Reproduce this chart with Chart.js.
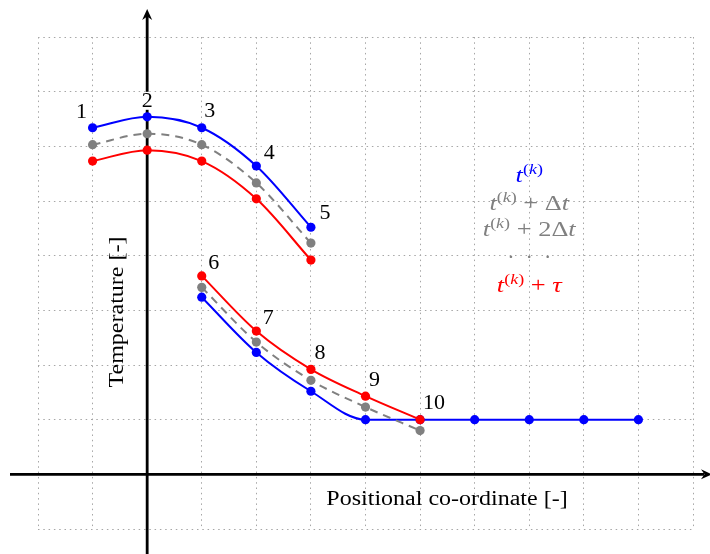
<!DOCTYPE html>
<html lang="en">
  <head>
    <meta charset="UTF-8" />
    <title>Temperature profile</title>
    <script src="https://cdn.jsdelivr.net/npm/chart.js@4.4.0/dist/chart.umd.min.js"></script>
    <style>
      body {
        margin: 0;
        background: #ffffff;
      }
      #wrap {
        width: 710px;
        height: 554px;
      }
    </style>
  </head>
  <body>
    <div id="wrap"><canvas id="profile" width="710" height="554"></canvas></div>

    <script>
      // node positions along the rod (upper and lower segments)
      const upperX = [-1, 0, 1, 2, 3];
      const lowerX = [1, 2, 3, 4, 5];
      const tailX = [6, 7, 8, 9];

      // temperatures at t(k)
      const blueUpper = [6.34, 6.54, 6.34, 5.64, 4.52];
      const blueLower = [3.24, 2.23, 1.52, 1.0, 1.0];
      const blueTail = [1.0, 1.0, 1.0, 1.0];
      // t(k) + dt
      const grayUpper = [6.03, 6.23, 6.03, 5.33, 4.23];
      const grayLower = [3.42, 2.42, 1.72, 1.23, 0.8];
      // t(k) + tau
      const redUpper = [5.73, 5.93, 5.73, 5.04, 3.92];
      const redLower = [3.63, 2.62, 1.92, 1.43, 1.0];

      // node numbers: 1-5 sit on the upper blue curve, 6-10 on the lower red one
      const nodeNames = ["1", "2", "3", "4", "5", "6", "7", "8", "9", "10"];
      const nodeOffsets = [
        [-11, -16], [0, -16], [8, -17], [13, -13], [14, -14],
        [12, -13], [12, -13], [9, -16], [9, -16], [14, -16]
      ];

      const BLUE = "#0000ff";
      const GRAY = "#808080";
      const RED = "#ff0000";
      const SERIF = '"Liberation Serif", "DejaVu Serif", serif';
      const WIDE = 1.2; // serif text is drawn a little wider than Times

      function pts(xs, ys) {
        return xs.map((x, i) => ({ x: x, y: ys[i] }));
      }

      function series(data, color, dashed) {
        return {
          data: data,
          showLine: true,
          borderColor: color,
          backgroundColor: color,
          borderWidth: 2,
          borderDash: dashed ? [8, 6] : [],
          pointRadius: 4.6,
          pointHoverRadius: 4.6,
          pointBorderWidth: 0,
          cubicInterpolationMode: "monotone",
        };
      }

      // thick arrowed axes through the origin
      const axesPlugin = {
        id: "axes",
        beforeDatasetsDraw(chart) {
          const ctx = chart.ctx;
          const x0 = chart.scales.x.getPixelForValue(0);
          const y0 = chart.scales.y.getPixelForValue(0);
          const W = chart.width;
          const H = chart.height;
          ctx.save();
          ctx.strokeStyle = "#000";
          ctx.fillStyle = "#000";
          ctx.lineWidth = 2.8;
          ctx.beginPath();
          ctx.moveTo(10, y0);
          ctx.lineTo(W - 6, y0);
          ctx.moveTo(x0, H);
          ctx.lineTo(x0, 16);
          ctx.stroke();
          arrow(ctx, x0, 9, 0, -1);
          arrow(ctx, W + 2, y0, 1, 0);
          ctx.restore();
        },
      };

      function arrow(ctx, tx, ty, dx, dy) {
        const len = 11, half = 5, back = 3.5;
        const px = -dy, py = dx;
        ctx.beginPath();
        ctx.moveTo(tx, ty);
        ctx.lineTo(tx - dx * len + px * half, ty - dy * len + py * half);
        ctx.lineTo(tx - dx * (len - back), ty - dy * (len - back));
        ctx.lineTo(tx - dx * len - px * half, ty - dy * len - py * half);
        ctx.closePath();
        ctx.fill();
      }

      // centred text, stretched horizontally
      function wideText(ctx, text, cx, cy) {
        ctx.save();
        ctx.translate(cx, cy);
        ctx.scale(WIDE, 1);
        ctx.textAlign = "center";
        ctx.textBaseline = "middle";
        ctx.fillText(text, 0, 0);
        ctx.restore();
      }

      // draws a run of text pieces; each piece may be italic or raised
      function drawRich(ctx, pieces, cx, cy, color) {
        const size = 22, supSize = 15;
        const fontOf = (p) => (p.it ? "italic " : "") + (p.sup ? supSize : size) + "px " + SERIF;
        let total = 0;
        const widths = pieces.map((p) => {
          ctx.font = fontOf(p);
          const w = ctx.measureText(p.t).width * WIDE;
          total += w;
          return w;
        });
        let x = cx - total / 2;
        ctx.fillStyle = color;
        ctx.textBaseline = "alphabetic";
        ctx.textAlign = "left";
        pieces.forEach((p, i) => {
          ctx.font = fontOf(p);
          ctx.save();
          ctx.translate(x, cy + (p.sup ? -8 : 0));
          ctx.scale(WIDE, 1);
          ctx.fillText(p.t, 0, 0);
          ctx.restore();
          x += widths[i];
        });
      }

      const tk = [
        { t: "t", it: true },
        { t: "(", sup: true },
        { t: "k", sup: true, it: true },
        { t: ")", sup: true },
      ];

      const labelsPlugin = {
        id: "labels",
        afterDatasetsDraw(chart) {
          const ctx = chart.ctx;
          const sx = chart.scales.x;
          const sy = chart.scales.y;
          ctx.save();

          // node numbers on white patches
          ctx.font = "22px " + SERIF;
          ctx.textAlign = "center";
          ctx.textBaseline = "middle";
          nodeNames.forEach((name, i) => {
            const x = i < 5 ? upperX[i] : lowerX[i - 5];
            const y = i < 5 ? blueUpper[i] : redLower[i - 5];
            const off = nodeOffsets[i];
            const px = sx.getPixelForValue(x) + off[0];
            const py = sy.getPixelForValue(y) + off[1];
            const w = ctx.measureText(name).width;
            ctx.fillStyle = "#fff";
            ctx.fillRect(px - w / 2 - 2, py - 9, w + 4, 18);
            ctx.fillStyle = "#000";
            ctx.fillText(name, px, py);
          });

          // axis titles
          ctx.font = "20px " + SERIF;
          ctx.fillStyle = "#000";
          wideText(ctx, "Positional co-ordinate [-]", 447, 500);
          ctx.save();
          ctx.translate(118, 312);
          ctx.rotate(-Math.PI / 2);
          wideText(ctx, "Temperature [-]", 0, 0);
          ctx.restore();

          // series key
          const kx = sx.getPixelForValue(7);
          drawRich(ctx, tk, kx, 182, BLUE);
          drawRich(ctx, tk.concat([{ t: " + Δ" }, { t: "t", it: true }]), kx, 210, GRAY);
          drawRich(ctx, tk.concat([{ t: " + 2Δ" }, { t: "t", it: true }]), kx, 236, GRAY);
          ctx.font = "22px " + SERIF;
          ctx.fillStyle = GRAY;
          ctx.textAlign = "center";
          ctx.textBaseline = "alphabetic";
          ctx.fillText("·  ·  ·", kx, 264);
          drawRich(ctx, tk.concat([{ t: " + " }, { t: "τ", it: true }]), kx, 292, RED);
          ctx.restore();
        },
      };

      const gridOpts = {
        color: "#a6a6a6",
        lineWidth: 1,
        drawTicks: false,
      };

      new Chart(document.getElementById("profile"), {
        type: "scatter",
        data: {
          datasets: [
            series(pts(upperX, grayUpper), GRAY, true),
            series(pts(lowerX, grayLower), GRAY, true),
            series(pts(upperX, redUpper), RED, false),
            series(pts(lowerX, redLower), RED, false),
            series(pts(upperX, blueUpper), BLUE, false),
            series(pts(lowerX.concat(tailX), blueLower.concat(blueTail)), BLUE, false),
          ],
        },
        options: {
          responsive: false,
          animation: false,
          layout: { padding: { left: 38, right: 17, top: 37, bottom: 25 } },
          plugins: {
            legend: { display: false },
            tooltip: { enabled: false },
          },
          scales: {
            x: {
              type: "linear",
              min: -2,
              max: 10,
              ticks: { display: false, stepSize: 1 },
              grid: gridOpts,
              border: { display: false, dash: [1.5, 3.8] },
            },
            y: {
              type: "linear",
              min: -1,
              max: 8,
              ticks: { display: false, stepSize: 1 },
              grid: gridOpts,
              border: { display: false, dash: [1.5, 3.8] },
            },
          },
        },
        plugins: [axesPlugin, labelsPlugin],
      });
    </script>
  </body>
</html>
